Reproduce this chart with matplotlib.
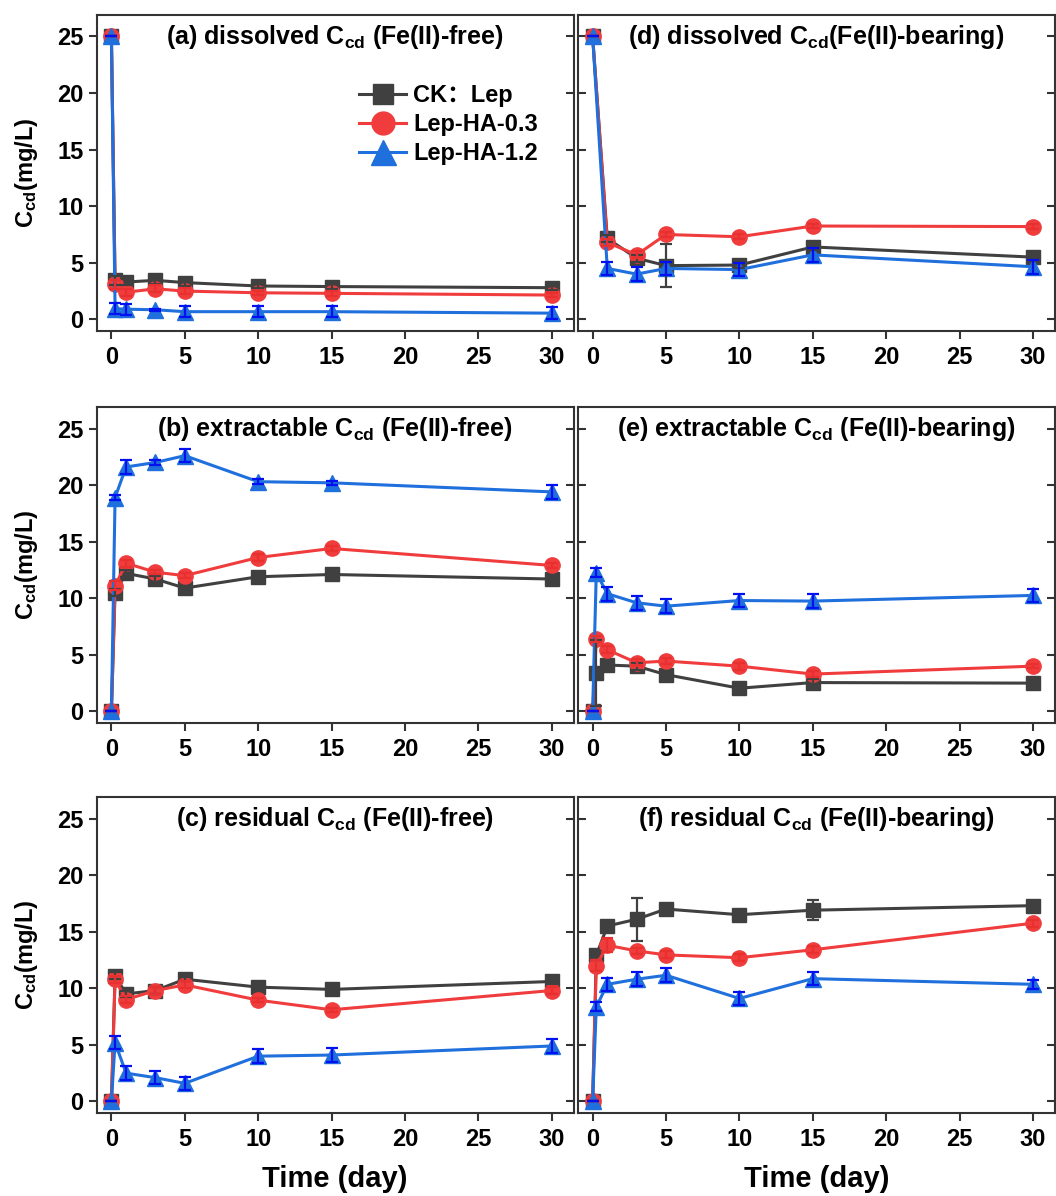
import matplotlib
matplotlib.use("Agg")
import matplotlib.pyplot as plt

plt.rcParams['font.family'] = ['Liberation Sans', 'Noto Sans CJK SC', 'DejaVu Sans']
plt.rcParams['font.weight'] = 'bold'
plt.rcParams['mathtext.fontset'] = 'custom'
plt.rcParams['mathtext.rm'] = 'Liberation Sans:bold'
plt.rcParams['mathtext.default'] = 'rm'

# time points (day)
t_free = [0, 0.25, 1, 3, 5, 10, 15, 30]
t_d = [0, 1, 3, 5, 10, 15, 30]

series = ['CK：Lep', 'Lep-HA-0.3', 'Lep-HA-1.2']

# (a) dissolved, Fe(II)-free
a_ck = [25, 3.45, 3.3, 3.45, 3.25, 2.95, 2.9, 2.8]
a_03 = [25, 3.1, 2.4, 2.7, 2.5, 2.35, 2.3, 2.15]
a_12 = [25, 0.95, 0.9, 0.85, 0.68, 0.68, 0.68, 0.55]
a_err = [[0, 0.4, 0.3, 0.3, 0.3, 0.2, 0.2, 0.2],
         [0, 0.4, 0.3, 0.3, 0.3, 0.2, 0.2, 0.2],
         [0, 0.5, 0.5, 0.1, 0.5, 0.5, 0.5, 0.5]]

# (b) extractable, Fe(II)-free
b_ck = [0, 10.5, 12.2, 11.7, 10.9, 11.9, 12.1, 11.7]
b_03 = [0, 11.1, 13.1, 12.3, 12.0, 13.6, 14.4, 12.9]
b_12 = [0, 18.9, 21.6, 22.0, 22.6, 20.3, 20.2, 19.4]
b_err = [[0, 0.3, 0.3, 0.3, 0.2, 0.2, 0.2, 0.2],
         [0, 0.4, 0.3, 0.2, 0.2, 0.3, 0.2, 0.2],
         [0, 0.2, 0.6, 0.2, 0.6, 0.2, 0.2, 0.6]]

# (c) residual, Fe(II)-free
c_ck = [0, 11.1, 9.5, 9.8, 10.8, 10.1, 9.9, 10.6]
c_03 = [0, 10.8, 9.0, 9.8, 10.3, 8.95, 8.1, 9.8]
c_12 = [0, 5.2, 2.5, 2.1, 1.6, 4.0, 4.1, 4.9]
c_err = [[0, 0.3, 0.3, 0.3, 0.2, 0.2, 0.2, 0.2],
         [0, 0.3, 0.3, 0.3, 0.3, 0.2, 0.2, 0.3],
         [0, 0.6, 0.6, 0.6, 0.6, 0.6, 0.6, 0.6]]

# (d) dissolved, Fe(II)-bearing
d_ck = [25, 7.15, 5.4, 4.75, 4.8, 6.4, 5.5]
d_03 = [25, 6.8, 5.7, 7.5, 7.3, 8.25, 8.2]
d_12 = [25, 4.5, 4.0, 4.5, 4.4, 5.7, 4.65]
d_err = [[0, 0.3, 0.3, 1.9, 0.3, 0.3, 0.3],
         [0, 0.3, 0.3, 0.2, 0.2, 0.2, 0.2],
         [0, 0.6, 0.6, 0.6, 0.6, 0.6, 0.6]]

# (e) extractable, Fe(II)-bearing
e_ck = [0, 3.4, 4.1, 4.0, 3.25, 2.05, 2.55, 2.5]
e_03 = [0, 6.4, 5.45, 4.3, 4.45, 4.0, 3.3, 4.0]
e_12 = [0, 12.25, 10.4, 9.6, 9.3, 9.8, 9.75, 10.25]
e_err = [[0, 2.9, 0.3, 0.3, 0.3, 0.3, 0.3, 0.3],
         [0, 0.3, 0.3, 0.3, 0.3, 0.3, 0.3, 0.2],
         [0, 0.4, 0.6, 0.6, 0.6, 0.6, 0.6, 0.6]]

# (f) residual, Fe(II)-bearing
f_ck = [0, 12.9, 15.5, 16.1, 17.0, 16.5, 16.9, 17.3]
f_03 = [0, 12.0, 13.8, 13.3, 12.95, 12.7, 13.4, 15.75]
f_12 = [0, 8.35, 10.35, 10.8, 11.15, 9.1, 10.85, 10.35]
f_err = [[0, 0.4, 0.3, 1.9, 0.3, 0.3, 0.9, 0.2],
         [0, 0.5, 0.6, 0.3, 0.3, 0.3, 0.3, 0.3],
         [0, 0.4, 0.6, 0.6, 0.6, 0.6, 0.6, 0.4]]

titles = [r'(a) dissolved C$_{cd}$ (Fe(II)-free)',
          r'(d) dissolved C$_{cd}$(Fe(II)-bearing)',
          r'(b) extractable C$_{cd}$ (Fe(II)-free)',
          r'(e) extractable C$_{cd}$ (Fe(II)-bearing)',
          r'(c) residual C$_{cd}$ (Fe(II)-free)',
          r'(f) residual C$_{cd}$ (Fe(II)-bearing)']

panels = [(t_free, [a_ck, a_03, a_12], a_err),
          (t_d, [d_ck, d_03, d_12], d_err),
          (t_free, [b_ck, b_03, b_12], b_err),
          (t_free, [e_ck, e_03, e_12], e_err),
          (t_free, [c_ck, c_03, c_12], c_err),
          (t_free, [f_ck, f_03, f_12], f_err)]

colors = ['#404040', '#f03c3c', '#1f6fdc']
err_colors = ['#404040', '#e83030', '#0010f0']
markers = ['s', 'o', '^']
msizes = [10, 11, 12]

fig = plt.figure(figsize=(10.56, 11.96), dpi=100)
lefts = [0.0916, 0.5473]
width = 0.4517
bottoms = [0.7235, 0.3957, 0.0696]
height = 0.264

for i, (t, ys, errs) in enumerate(panels):
    row, col = i // 2, i % 2
    ax = fig.add_axes([lefts[col], bottoms[row], width, height])
    for j in range(3):
        ax.plot(t, ys[j], color=colors[j], marker=markers[j], ms=msizes[j],
                lw=2.2, label=series[j], zorder=2 + j)
        ax.errorbar(t, ys[j], yerr=errs[j], fmt='none', ecolor=err_colors[j],
                    elinewidth=1.6, capsize=4, capthick=1.6, zorder=5 + j)
    ax.set_xlim(-1, 31.5)
    ax.set_ylim(-1, 26.9)
    ax.set_xticks([0, 5, 10, 15, 20, 25, 30])
    ax.set_yticks([0, 5, 10, 15, 20, 25])
    ax.text(0.5, 0.975, titles[i], transform=ax.transAxes, ha='center', va='top',
            fontsize=18, fontweight='bold')
    for s in ax.spines.values():
        s.set_linewidth(1.5)
        s.set_color('#333333')
    ax.tick_params(axis='x', direction='out', length=6, width=1.5, labelsize=17,
                   colors='#333333', labelcolor='black', pad=5)
    ax.tick_params(axis='y', left=True, right=True, length=6, width=1.5,
                   labelsize=17, colors='#333333', labelcolor='black',
                   direction='in' if col == 1 else 'out')
    # right spine ticks point inward
    for tk in ax.yaxis.get_major_ticks():
        tk.tick2line.set_marker(matplotlib.lines.TICKLEFT)
    if col == 0:
        ax.set_ylabel(r'C$_{cd}$(mg/L)', fontsize=17, fontweight='bold', labelpad=12)
    else:
        ax.tick_params(axis='y', labelleft=False)
    if row == 2:
        ax.set_xlabel('Time (day)', fontsize=21, fontweight='bold', labelpad=10)
    if i == 0:
        ax.legend(loc='upper right', bbox_to_anchor=(0.955, 0.825), frameon=False,
                  fontsize=17, handlelength=2.0, markerscale=1.5,
                  handletextpad=0.3, labelspacing=0.25, borderaxespad=0.2)

fig.savefig('out.png', dpi=100)
